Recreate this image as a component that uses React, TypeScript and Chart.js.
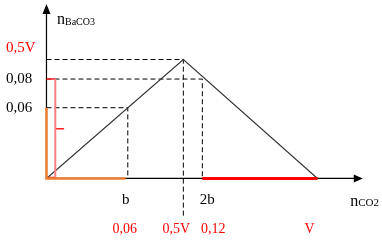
import { useEffect, useRef } from "react";
import { Chart, registerables } from "chart.js";

Chart.register(...registerables);

// ---- data (schematic units) ----
const xB = 0.06; // b
const xHalfV = 0.101; // 0,5V (peak)
const x2b = 0.115; // 2b
const xV = 0.2; // V
const xAxisEnd = 0.2334;

const y06 = 0.058;
const y08 = 0.0815;
const yPeak = 0.0975;
const yAxisEnd = 0.143;
const yBelow = -0.032;

const triangleX = [0, xHalfV, xV];
const triangleY = [0, yPeak, 0];

const yAxisLabels = ["0,5V", "0,08", "0,06"];
const yAxisLabelValues = [yPeak, y08, y06];
const yAxisLabelColors = ["#FF0000", "#000000", "#000000"];

const xLetterLabels = ["b", "2b"];
const xLetterValues = [xB, x2b];

const xNumberLabels = ["0,06", "0,5V", "0,12", "V"];
const xNumberValues = [xB, xHalfV, x2b, xV];

const braceX = 0.0065;
const braceTipX = 0.013;

// ---- styling offsets (pixels) ----
const yLabelOffsets = [-11, 0, 0];
const xLetterOffsets = [-2, 5];
const xNumberOffsets = [-3, -7, 11, -8];

const pts = (xs: (number | null)[], ys: (number | null)[]) =>
  xs.map((v, i) => ({ x: v as number, y: ys[i] as number }));

export default function App() {
  const ref = useRef<HTMLCanvasElement>(null);
  useEffect(() => {
    if (!ref.current) return;
    const dash = [5, 3];
    const labelPlugin = {
      id: "labels",
      afterDraw(chart: any) {
        const { ctx } = chart;
        const sx = chart.scales.x;
        const sy = chart.scales.y;
        const px = (v: number) => sx.getPixelForValue(v);
        const py = (v: number) => sy.getPixelForValue(v);
        ctx.save();
        // arrowheads
        ctx.fillStyle = "#000";
        const ox = px(0);
        const oy = py(0);
        const ty = py(yAxisEnd);
        ctx.beginPath();
        ctx.moveTo(ox, ty);
        ctx.lineTo(ox - 4, ty + 10);
        ctx.lineTo(ox + 4, ty + 10);
        ctx.closePath();
        ctx.fill();
        const tx = px(xAxisEnd);
        ctx.beginPath();
        ctx.moveTo(tx, oy);
        ctx.lineTo(tx - 9, oy - 4);
        ctx.lineTo(tx - 9, oy + 4);
        ctx.closePath();
        ctx.fill();

        // y labels
        ctx.textBaseline = "middle";
        ctx.textAlign = "left";
        ctx.font = "15px 'Liberation Serif'";
        yAxisLabels.forEach((t, i) => {
          ctx.fillStyle = yAxisLabelColors[i];
          ctx.fillText(t, ox - 40.5, py(yAxisLabelValues[i]) + yLabelOffsets[i]);
        });
        // x letter labels
        ctx.textAlign = "center";
        ctx.fillStyle = "#000";
        ctx.font = "15px 'Liberation Serif'";
        xLetterLabels.forEach((t, i) => {
          ctx.fillText(t, px(xLetterValues[i]) + xLetterOffsets[i], oy + 21.5);
        });
        // x number labels
        ctx.fillStyle = "#FF0000";
        ctx.font = "14px 'Liberation Serif'";
        xNumberLabels.forEach((t, i) => {
          ctx.fillText(t, px(xNumberValues[i]) + xNumberOffsets[i], oy + 50.5);
        });
        // axis titles
        ctx.textBaseline = "alphabetic";
        ctx.textAlign = "left";
        ctx.fillStyle = "#000";
        ctx.font = "16px 'Liberation Serif'";
        ctx.fillText("n", ox + 10.5, ty + 19.5);
        const nw = ctx.measureText("n").width;
        ctx.font = "10px 'Liberation Serif'";
        ctx.fillText("BaCO3", ox + 10.5 + nw, ty + 20.5);
        ctx.font = "16px 'Liberation Serif'";
        ctx.fillText("n", tx - 12.5, oy + 27.5);
        const nw2 = ctx.measureText("n").width;
        ctx.font = "11px 'Liberation Serif'";
        ctx.fillText("CO2", tx - 12.5 + nw2, oy + 28);
        ctx.restore();
      },
    };

    const chart = new Chart(ref.current, {
      type: "scatter",
      data: {
        datasets: [
          // red segment on x-axis
          {
            data: pts([x2b, xV], [0, 0]),
            borderColor: "#FF0000",
            borderWidth: 3,
            order: 0,
          },
          // orange
          {
            data: pts([0, 0, xB - 0.0015], [y06, 0, 0]),
            borderColor: "#ED7D31",
            borderWidth: 2.5,
            order: 1,
          },
          // brace vertical (pink)
          {
            data: pts([braceX, braceX], [y08, 0.0008]),
            borderColor: "#FF8080",
            borderWidth: 2,
            order: 2,
          },
          // brace ticks (red)
          {
            data: pts(
              [0, braceX, null, braceX, braceTipX, null, braceX, 0.0005],
              [y08, y08, null, y08 / 2, y08 / 2, null, 0.0008, 0.0008]
            ),
            borderColor: "#FF2020",
            borderWidth: 1.5,
            order: 2,
          },
          // triangle
          {
            data: pts(triangleX, triangleY),
            borderColor: "#333333",
            borderWidth: 1.1,
            order: 3,
          },
          // dashed lines
          {
            data: pts(
              [0, xHalfV, xHalfV, null, 0, x2b, x2b, null, 0, xB, xB],
              [yPeak, yPeak, yBelow, null, y08, y08, 0, null, y06, y06, 0]
            ),
            borderColor: "#000000",
            borderWidth: 1,
            borderDash: dash,
            order: 4,
          },
          // axes
          {
            data: pts([0, 0, null, 0, xAxisEnd - 0.004], [yAxisEnd - 0.005, 0, null, 0, 0]),
            borderColor: "#000000",
            borderWidth: 1.2,
            order: 5,
          },
        ].map((d: any) => ({
          ...d,
          showLine: true,
          pointRadius: 0,
          pointHoverRadius: 0,
          spanGaps: false,
          fill: false,
        })),
      },
      options: {
        animation: false,
        responsive: true,
        maintainAspectRatio: false,
        layout: { padding: 0 },
        plugins: { legend: { display: false }, tooltip: { enabled: false } },
        scales: {
          x: { type: "linear", display: false, min: -0.0343, max: 0.2476 },
          y: { type: "linear", display: false, min: -0.0529, max: 0.1463 },
        },
      },
      plugins: [labelPlugin],
    });
    return () => chart.destroy();
  }, []);

  return (
    <div
      style={{
        position: "fixed",
        left: 0,
        top: 0,
        width: 382,
        height: 243,
        background: "#fff",
      }}
    >
      <canvas ref={ref} />
    </div>
  );
}
